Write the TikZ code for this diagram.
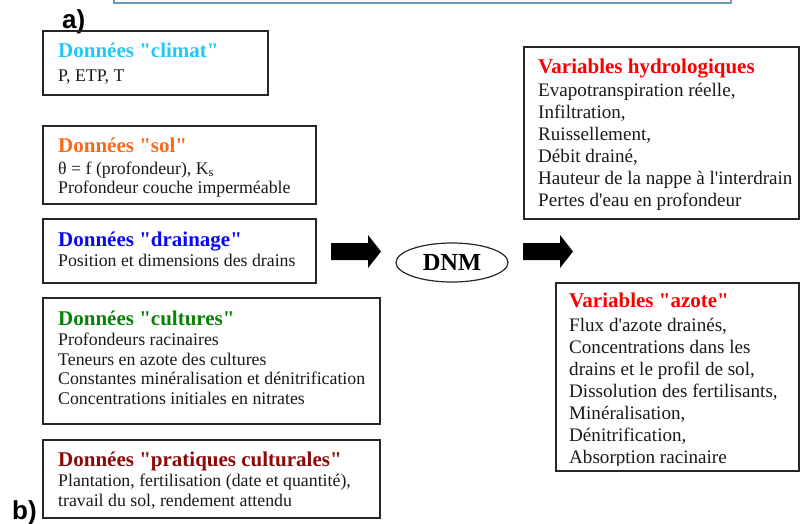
\documentclass[tikz,border=0pt]{standalone}
\usepackage{fontspec}
\setmainfont{Liberation Serif}[Ligatures=TeXOff]
\newfontfamily\labfont{Liberation Sans}
\usetikzlibrary{shapes.geometric}
\definecolor{cclimat}{RGB}{35,200,245}
\definecolor{csol}{RGB}{250,105,25}
\definecolor{cdrain}{RGB}{10,10,240}
\definecolor{ccult}{RGB}{10,130,10}
\definecolor{cprat}{RGB}{140,10,10}
\definecolor{cvar}{RGB}{250,0,0}
\definecolor{ctop}{RGB}{105,155,175}
\begin{document}
\begin{tikzpicture}[x=1pt,y=-1pt,
  box/.style={draw=black!85, line width=1.2pt, inner sep=0pt, outer sep=0pt, anchor=north west},
  ttl/.style={font=\fontsize{21}{25}\selectfont\bfseries, anchor=base west, inner sep=0pt},
  body/.style={font=\fontsize{17.8}{20}\selectfont, anchor=base west, inner sep=0pt, text=black!90},
  bodyL/.style={font=\fontsize{19.1}{22}\selectfont, anchor=base west, inner sep=0pt, text=black!90},
  lab/.style={font=\labfont\fontsize{26}{30}\selectfont\bfseries, anchor=base west, inner sep=0pt},
  blockarrow/.style={fill=black}]
\useasboundingbox (0,0) rectangle (800,523);
% partial box at the top
\draw[ctop, line width=1.5pt] (114,-10) -- (114,3) -- (731,3) -- (731,-10);
% labels
\node[lab] (la) at (62,28) {a)};
\node[lab] (lb) at (12,519) {b)};
% input boxes
\node[box, minimum width=225pt, minimum height=64pt] (climat) at (43,31) {};
\node[ttl, text=cclimat] (climatT) at (58,57) {Données "climat"};
\node[body] (climat1) at (58,81) {P, ETP, T};

\node[box, minimum width=273pt, minimum height=78pt] (sol) at (43,126) {};
\node[ttl, text=csol] (solT) at (58,152) {Données "sol"};
\node[body] (sol1) at (58,174) {θ = f (profondeur), K\textsubscript{s}};
\node[body] (sol2) at (58,193.5) {Profondeur couche imperméable};

\node[box, minimum width=273pt, minimum height=64pt] (drain) at (43,219) {};
\node[ttl, text=cdrain] (drainT) at (58,246.5) {Données "drainage"};
\node[body] (drain1) at (58,266.5) {Position et dimensions des drains};

\node[box, minimum width=337pt, minimum height=126pt] (cult) at (43,298) {};
\node[ttl, text=ccult] (cultT) at (58,325) {Données "cultures"};
\foreach \t [count=\i from 0] in {Profondeurs racinaires, Teneurs en azote des cultures, Constantes minéralisation et dénitrification, Concentrations initiales en nitrates}
  \node[body] (cult\i) at (58,345.5+19.5*\i) {\t};

\node[box, minimum width=337pt, minimum height=78pt] (prat) at (43,440) {};
\node[ttl, text=cprat] (pratT) at (58,466) {Données "pratiques culturales"};
\node[body] (prat1) at (58,486.5) {Plantation, fertilisation (date et quantité),};
\node[body] (prat2) at (58,506) {travail du sol, rendement attendu};

% model
\node[draw=black!85, line width=1.2pt, ellipse, minimum width=112pt, minimum height=39pt, inner sep=0pt,
  font=\fontsize{24.5}{28}\selectfont\bfseries] (dnm) at (452,262.5) {DNM};

% block arrows
\coordinate (a1) at (331,251.5);
\coordinate (a2) at (523,251.5);
\foreach \c in {a1,a2}
  \fill[blockarrow] (\c) ++(0,-8.5) -- ++(37,0) -- ++(0,-8) -- ++(13,16.5) -- ++(-13,16.5) -- ++(0,-8) -- ++(-37,0) -- cycle;

% output boxes
\node[box, minimum width=275pt, minimum height=172pt] (hydro) at (524,47) {};
\node[ttl, text=cvar] (hydroT) at (538,73.5) {Variables hydrologiques};
\foreach \t [count=\i from 0] in {{Evapotranspiration réelle,}, {Infiltration,}, {Ruissellement,}, {Débit drainé,}, {Hauteur de la nappe à l'interdrain}, {Pertes d'eau en profondeur}}
  \node[bodyL] (hydro\i) at (538,96.5+22*\i) {\t};

\node[box, minimum width=243pt, minimum height=188pt] (azote) at (556,283) {};
\node[ttl, text=cvar] (azoteT) at (569,307.5) {Variables "azote"};
\begin{scope}
\clip (556,283) rectangle (799,465.5);
\foreach \t [count=\i from 0] in {{Flux d'azote drainés,}, {Concentrations dans les}, {drains et le profil de sol,}, {Dissolution des fertilisants,}, {Minéralisation,}, {Dénitrification,}, {Absorption racinaire}}
  \node[bodyL] (azote\i) at (569,331.5+22*\i) {\t};
\end{scope}
\end{tikzpicture}
\end{document}
